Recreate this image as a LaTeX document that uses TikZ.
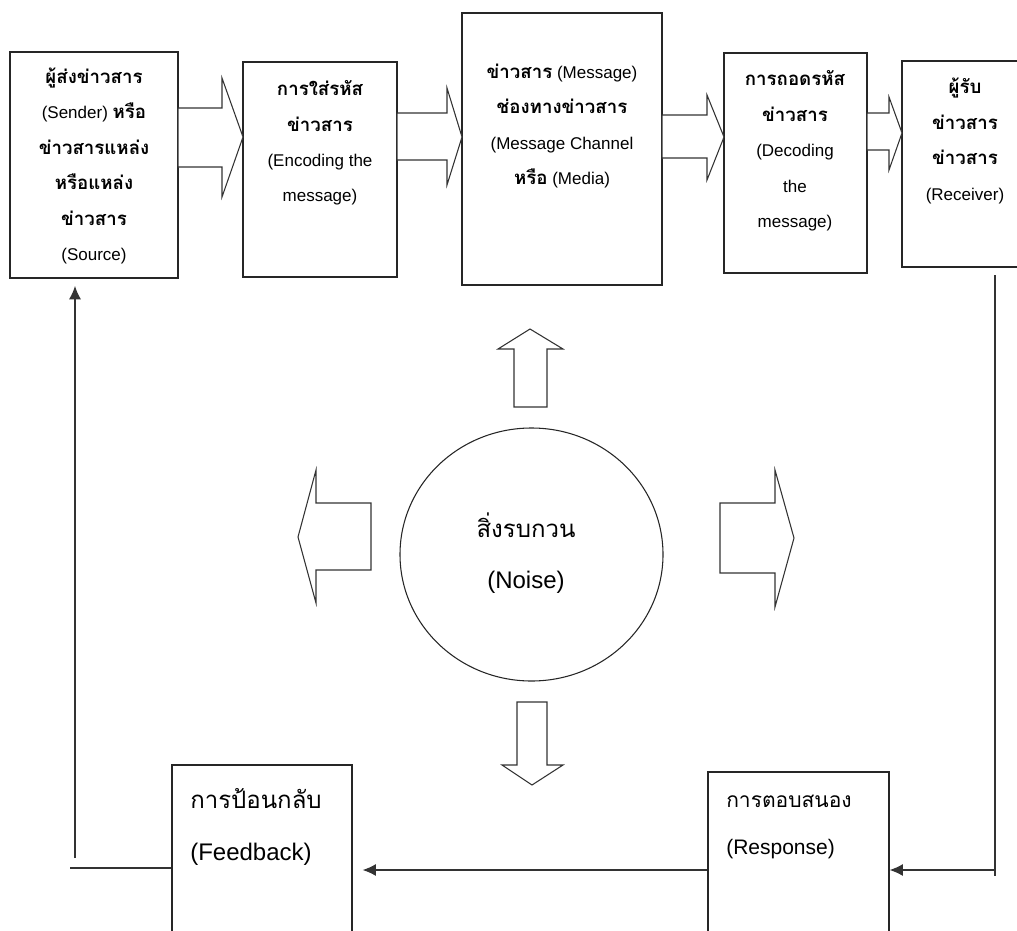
\documentclass[tikz,border=0pt]{standalone}
\usepackage{fontspec}
\setmainfont{Liberation Sans}
\newfontfamily\thaifont[Script=Thai]{Loma}
\usetikzlibrary{shapes.geometric,arrows.meta,fit}
\newcommand{\thb}[1]{{\thaifont\bfseries\fontsize{14}{26.6}\selectfont #1}}
\newcommand{\thr}[1]{{\thaifont #1}}
\begin{document}
\begin{tikzpicture}[x=0.75pt,y=-0.75pt,
  box/.style={draw=black!85, line width=0.9pt, inner sep=0pt},
  toptext/.style={align=center, font={\fontsize{12.75}{26.6}\selectfont}, inner sep=0pt},
  barrow/.style={draw=black!80, line width=0.8pt, fill=white, line join=miter},
  conn/.style={line width=0.9pt, draw=black!80},
  tip/.style={-{Latex[length=10pt,width=9pt]}}]
\useasboundingbox (0,0) rectangle (1017,931);
% top boxes
\node[box, fit={(10,52) (178,278)}] (sender) {};
\node[box, fit={(243,62) (397,277)}] (encoding) {};
\node[box, fit={(462,13) (662,285)}] (message) {};
\node[box, fit={(724,53) (867,273)}] (decoding) {};
\node[box, fit={(902,61) (1030,267)}] (receiver) {};
% texts
\node[toptext] (tsender) at (94,166) {\thb{ผู้ส่งข่าวสาร}\\(Sender) \thb{หรือ}\\\thb{ข่าวสารแหล่ง}\\\thb{หรือแหล่ง}\\\thb{ข่าวสาร}\\(Source)};
\node[toptext] (tencoding) at (320,143) {\thb{การใส่รหัส}\\\thb{ข่าวสาร}\\(Encoding the\\message)};
\node[toptext] (tmessage) at (562,126) {\thb{ข่าวสาร} (Message)\\\thb{ช่องทางข่าวสาร}\\(Message Channel\\\thb{หรือ} (Media)};
\node[toptext] (tdecoding) at (795,151) {\thb{การถอดรหัส}\\\thb{ข่าวสาร}\\(Decoding\\the\\message)};
\node[toptext] (treceiver) at (965,141) {\thb{ผู้รับ}\\\thb{ข่าวสาร}\\\thb{ข่าวสาร}\\(Receiver)};
% block arrows between top boxes
\draw[barrow] (178,108) -- (222,108) -- (222,78) -- (243,137) -- (222,197) -- (222,167) -- (178,167) -- cycle;
\draw[barrow] (397,113) -- (447,113) -- (447,88) -- (462,137) -- (447,185) -- (447,160) -- (397,160) -- cycle;
\draw[barrow] (662,115) -- (707,115) -- (707,95) -- (724,137) -- (707,180) -- (707,158) -- (662,158) -- cycle;
\draw[barrow] (867,113) -- (889,113) -- (889,97) -- (902,133) -- (889,170) -- (889,150) -- (867,150) -- cycle;
% noise
\node[ellipse, draw=black!85, line width=0.8pt, inner sep=0pt, minimum width=197.25pt, minimum height=189.75pt] (noise) at (531.5,554.5) {};
\node[align=center, font={\fontsize{18}{38}\selectfont}, inner sep=0pt] (tnoise) at (526,553) {\thr{สิ่งรบกวน}\\(Noise)};
\draw[barrow] (514,407) -- (514,349) -- (498,349) -- (530,329) -- (563,349) -- (547,349) -- (547,407) -- cycle;
\draw[barrow] (517,702) -- (517,765) -- (502,765) -- (532,785) -- (563,765) -- (547,765) -- (547,702) -- cycle;
\draw[barrow] (371,503) -- (316,503) -- (316,470) -- (298,537) -- (316,603) -- (316,570) -- (371,570) -- cycle;
\draw[barrow] (720,503) -- (775,503) -- (775,470) -- (794,538) -- (775,607) -- (775,573) -- (720,573) -- cycle;
% bottom boxes
\node[box, fit={(172,765) (352,945)}] (feedback) {};
\node[box, fit={(708,772) (889,945)}] (response) {};
\node[align=left, font={\fontsize{18}{39}\selectfont}, inner sep=0pt, anchor=west] (tfeedback) at (190,827) {\thr{การป้อนกลับ}\\(Feedback)};
\node[align=left, font={\fontsize{15.75}{35}\selectfont}, inner sep=0pt, anchor=west] (tresponse) at (726,827) {\thr{การตอบสนอง}\\(Response)};
% connectors
\coordinate (rtop) at (995,275);
\coordinate (rbot) at (995,876);
\coordinate (rcorner) at (995,870);
\coordinate (fcorner) at (70,868);
\coordinate (upstart) at (75,858);
\draw[conn] (rtop) -- (rbot);
\draw[conn, tip] (rcorner) -- (response.east |- rcorner);
\draw[conn, tip, shorten >=7.5pt] (response.west |- rcorner) -- (feedback.east |- rcorner);
\draw[conn] (feedback.west |- fcorner) -- (fcorner);
\draw[conn, tip, shorten >=5.5pt] (upstart) -- (upstart |- sender.south);
\end{tikzpicture}
\end{document}
